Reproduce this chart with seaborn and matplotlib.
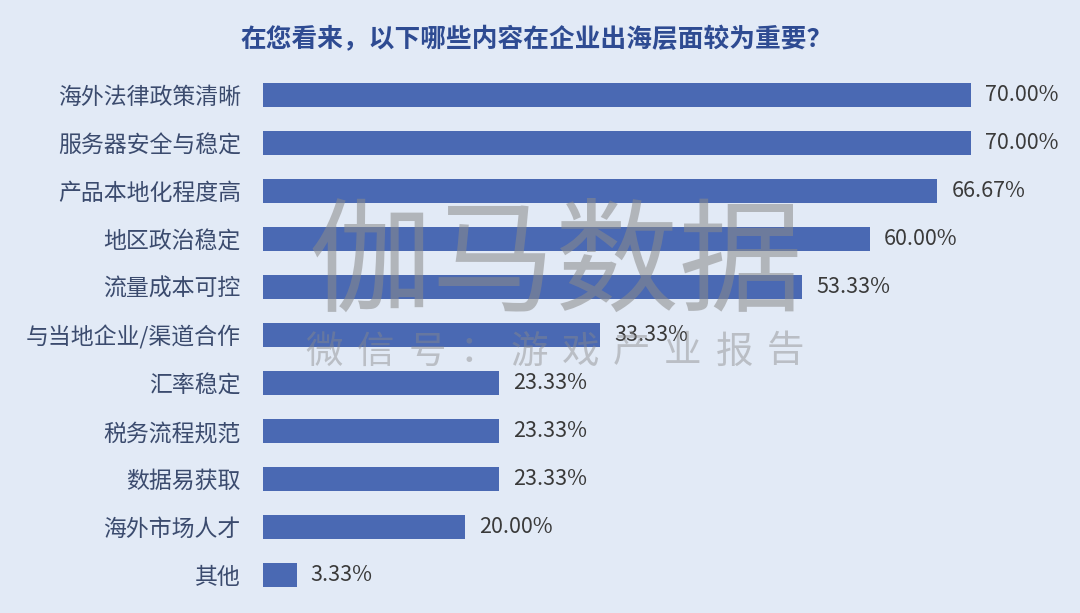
import matplotlib
matplotlib.use("Agg")
import matplotlib.pyplot as plt
import seaborn as sns
import pandas as pd

categories = ["海外法律政策清晰", "服务器安全与稳定", "产品本地化程度高", "地区政治稳定",
              "流量成本可控", "与当地企业/渠道合作", "汇率稳定", "税务流程规范",
              "数据易获取", "海外市场人才", "其他"]
values = [70.00, 70.00, 66.67, 60.00, 53.33, 33.33, 23.33, 23.33, 23.33, 20.00, 3.33]
title = "在您看来，以下哪些内容在企业出海层面较为重要？"
watermark_main = "伽马数据"
watermark_sub = "微信号：游戏产业报告"

sns.set_theme(style="white")
plt.rcParams['font.family'] = ['Noto Sans CJK SC', 'DejaVu Sans']

bg = "#e2eaf6"
bar_color = "#4a69b3"

df = pd.DataFrame({"cat": categories, "val": values})

fig = plt.figure(figsize=(10.8, 6.13), dpi=100, facecolor=bg)
ax = fig.add_axes([0.2435, 0.0228, 0.7565, 0.861])
ax.set_facecolor(bg)

sns.barplot(data=df, y="cat", x="val", orient="h", color=bar_color, width=0.5,
            saturation=1, ax=ax, order=categories, linewidth=0, edgecolor="none")

ax.set_xlim(0, 80.8)
ax.set_ylim(10.5, -0.5)
for s in ax.spines.values():
    s.set_visible(False)
ax.set_xticks([])
ax.set_xlabel("")
ax.set_ylabel("")
ax.tick_params(axis="y", length=0, pad=16, labelsize=16.5, labelcolor="#3b4b6e")

for i, v in enumerate(values):
    ax.text(v + 1.4, i, f"{v:.2f}%", va="center", ha="left", fontsize=15.5, color="#3a3a3a")

fig.text(0.497, 0.935, title, ha="center", va="center", fontsize=18.5,
         fontweight="bold", color="#2e4b92")

# watermark
fig.text(0.515, 0.565, watermark_main, ha="center", va="center", fontsize=89,
         color="#8a8a8a", alpha=0.55, fontweight="light")
n = len(watermark_sub)
x0, x1 = 305 / 1080, 800 / 1080
step = (x1 - x0) / (n - 1) if n > 1 else 0
for k, ch in enumerate(watermark_sub):
    fig.text(x0 + 0.018 + k * (step - 0.0035), 1 - 352 / 613, ch, ha="center", va="center",
             fontsize=27, color="#8a8a8a", alpha=0.45, fontweight="light")

fig.savefig("out.png", dpi=100, facecolor=bg)
